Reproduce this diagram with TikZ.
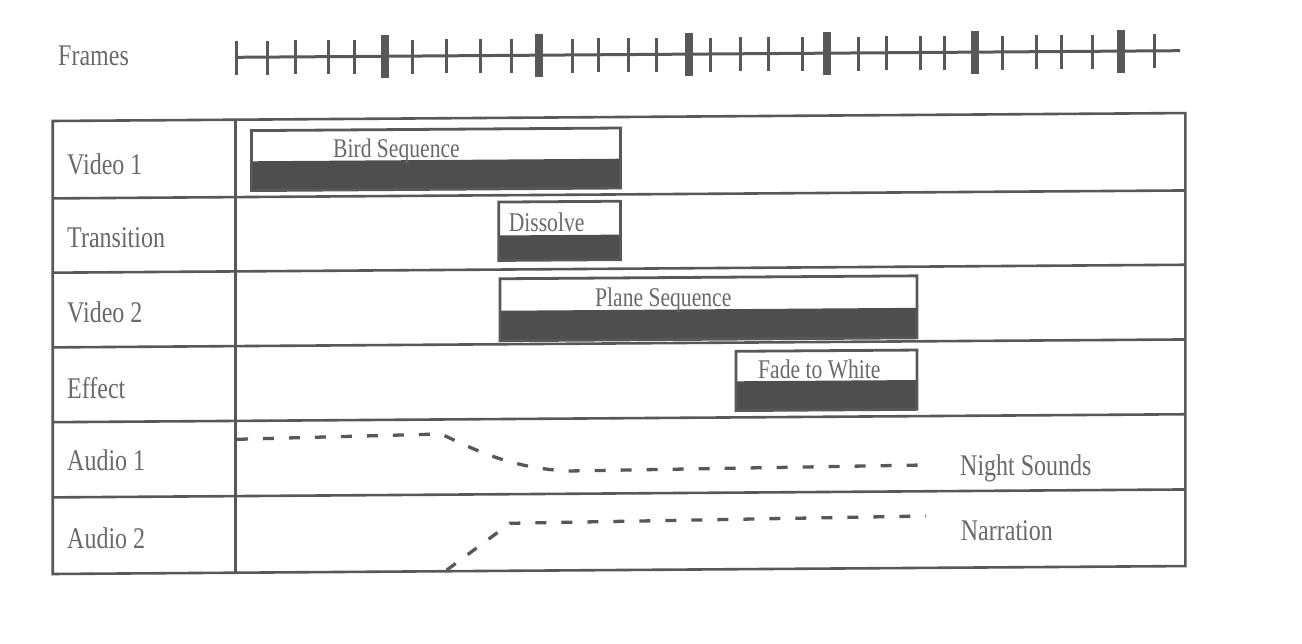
\documentclass[tikz,border=0pt]{standalone}
\usepackage{fontspec}
\setmainfont[FakeStretch=0.8]{Liberation Serif}
\definecolor{ink}{RGB}{88,88,88}
\definecolor{txt}{RGB}{105,105,105}
\definecolor{dark}{RGB}{78,78,78}
\begin{document}
\begin{tikzpicture}[x=1bp,y=-1bp,
  grid/.style={draw=ink,line width=2.6bp},
  lbl/.style={text=txt,font=\fontsize{30bp}{34bp}\selectfont,anchor=base west,inner sep=0pt},
  boxlbl/.style={text=txt,font=\fontsize{27bp}{30bp}\selectfont,anchor=base west,inner sep=0pt},
  clipbox/.style={draw=ink,line width=2.8bp},
  cliptail/.style={fill=dark},
  track/.style={draw=ink,line width=3.3bp,dash pattern=on 11bp off 15bp},
  tick/.style={draw=ink,line width=3bp},
  major/.style={draw=ink,line width=8bp}]
\fill[white] (0,0) rectangle (1302,644);
\useasboundingbox (0,0) rectangle (1302,644);
\begin{scope}[cm={1,0.007,0,1,(0,4.56)}]
% frames ruler
\node[lbl] (frames) at (58,61.5) {Frames};
\coordinate (fs) at (236.7,54.4);
\coordinate (fe) at (1180,54.4);
\draw[tick] (fs) -- (fe);
\foreach \x in {236.7,267.3,295.3,328.7,354.7,412.7,446.7,480.7,511.3,572,598,628.7,656.7,710,740,768.7,802.7,858.7,886.7,920,944,1002.7,1036,1061.3,1092.7,1154}
  \draw[tick] (\x,38) -- (\x,72);
\foreach \x in {384.7,539.3,689.3,827.3,974.7,1120.7}
  \draw[major] (\x,33) -- (\x,76.5);
% table
\draw[grid] (52.7,116.8) rectangle (1185.3,569.8);
\draw[grid] (235.7,116.8) -- (235.7,569.8);
\foreach \y in {194.2,268.5,343.2,418,493.2}
  \draw[grid] (52.7,\y) -- (1185.3,\y);
% row labels
\node[lbl] (v1) at (67,170) {Video 1};
\node[lbl] (tr) at (67,243.5) {Transition};
\node[lbl] (v2) at (67,318.8) {Video 2};
\node[lbl] (ef) at (67,394.5) {Effect};
\node[lbl] (a1) at (67,466.9) {Audio 1};
\node[lbl] (a2) at (67,544.5) {Audio 2};
% clips
\fill[cliptail] (251.5,158.5) rectangle (620.5,187.8);
\draw[clipbox] (251.5,127.8) rectangle (620.5,187.8);
\node[boxlbl] (bird) at (333,154.9) {Bird Sequence};
\fill[cliptail] (498.7,234.4) rectangle (620.5,259.4);
\draw[clipbox] (498.7,201) rectangle (620.5,259.4);
\node[boxlbl] (diss) at (508.6,231) {Dissolve};
\fill[cliptail] (500,309.7) rectangle (917,339.7);
\draw[clipbox] (500,277.7) rectangle (917,339.7);
\node[boxlbl] (plane) at (595,306.1) {Plane Sequence};
\fill[cliptail] (736,381.9) rectangle (917,411.2);
\draw[clipbox] (736,351.9) rectangle (917,411.2);
\node[boxlbl] (fade) at (758,379.5) {Fade to White};
% audio tracks
\coordinate (n1) at (237,436.4);
\coordinate (n2) at (441,432.5);
\coordinate (n3) at (570,470.4);
\coordinate (n4) at (925,466.9);
\draw[track] (n1) -- (n2) .. controls (470,446) and (510,468) .. (n3) -- (n4);
\node[lbl] (night) at (960,477.6) {Night Sounds};
\coordinate (r1) at (446.8,568.6);
\coordinate (r2) at (510,522.3);
\coordinate (r3) at (926,517.9);
\draw[track] (r1) -- (r2) -- (r3);
\node[lbl] (narr) at (960.7,542.4) {Narration};
\end{scope}
\end{tikzpicture}
\end{document}
